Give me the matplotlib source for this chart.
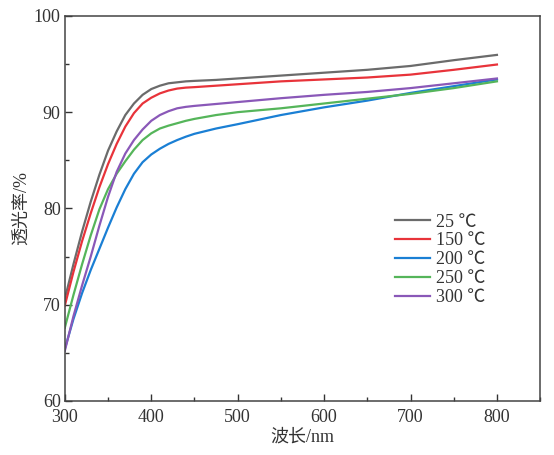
import matplotlib
matplotlib.use("Agg")
import matplotlib.pyplot as plt
from matplotlib.ticker import MultipleLocator

plt.rcParams['font.family'] = ['Liberation Serif', 'Noto Sans CJK SC']

# wavelength nodes (nm)
wavelength = [300, 310, 320, 330, 340, 350, 360, 370, 380, 390, 400, 410, 420,
              430, 440, 450, 475, 500, 550, 600, 650, 700, 750, 800]

# transmittance (%)
t_25 = [70.6, 74.2, 77.6, 80.7, 83.5, 86.0, 88.0, 89.7, 90.9, 91.8, 92.4, 92.75, 93.0,
        93.1, 93.2, 93.25, 93.35, 93.5, 93.8, 94.1, 94.4, 94.8, 95.4, 95.95]
t_150 = [69.9, 73.4, 76.6, 79.5, 82.2, 84.6, 86.7, 88.5, 89.9, 90.9, 91.5, 91.95, 92.25,
         92.45, 92.55, 92.6, 92.75, 92.9, 93.2, 93.4, 93.6, 93.9, 94.4, 94.95]
t_200 = [65.4, 68.5, 71.2, 73.6, 75.8, 78.0, 80.1, 82.0, 83.6, 84.8, 85.6, 86.2, 86.7,
         87.1, 87.45, 87.75, 88.3, 88.75, 89.7, 90.5, 91.2, 92.0, 92.7, 93.4]
t_250 = [67.6, 71.0, 74.2, 77.2, 79.9, 82.0, 83.6, 84.9, 86.1, 87.1, 87.8, 88.3, 88.6,
         88.85, 89.1, 89.3, 89.7, 90.0, 90.4, 90.9, 91.4, 91.9, 92.5, 93.2]
t_300 = [65.2, 68.8, 72.0, 75.0, 78.2, 81.2, 83.8, 85.7, 87.1, 88.2, 89.1, 89.7, 90.1,
         90.4, 90.55, 90.65, 90.85, 91.05, 91.45, 91.8, 92.1, 92.5, 93.0, 93.5]

labels = ['25 ℃', '150 ℃', '200 ℃', '250 ℃', '300 ℃']
colors = ['#6b6b6b', '#e8333a', '#1a7fd4', '#55b55a', '#8a58b8']
series = [t_25, t_150, t_200, t_250, t_300]

fig = plt.figure(figsize=(5.54, 4.55), dpi=100)
ax = fig.add_axes([0.117, 0.119, 0.858, 0.846])

for y, lab, c in zip(series, labels, colors):
    ax.plot(wavelength, y, color=c, lw=1.6, label=lab)

ax.set_xlim(300, 850)
ax.set_ylim(60, 100)
ax.xaxis.set_major_locator(MultipleLocator(100))
ax.xaxis.set_minor_locator(MultipleLocator(50))
ax.yaxis.set_major_locator(MultipleLocator(10))
ax.yaxis.set_minor_locator(MultipleLocator(5))
ax.tick_params(which='both', direction='in', top=False, right=False,
               labelsize=13, colors='#333333', width=1.0)
ax.tick_params(which='major', length=5)
ax.tick_params(which='minor', length=3)
ax.tick_params(axis='x', pad=6)
ax.tick_params(axis='y', pad=3)
for s in ax.spines.values():
    s.set_color('#444444')
    s.set_linewidth(1.1)

ax.set_xlabel('波长/nm', fontsize=13, color='#333333', labelpad=2)
ax.set_ylabel('透光率/%', fontsize=13, color='#333333', labelpad=3)

leg = ax.legend(loc='upper left', bbox_to_anchor=(0.68, 0.505), frameon=False,
                fontsize=13, handlelength=1.9, handletextpad=0.35,
                labelspacing=0.1, borderaxespad=0)
for t in leg.get_texts():
    t.set_color('#333333')

fig.savefig('out.png', dpi=100)
